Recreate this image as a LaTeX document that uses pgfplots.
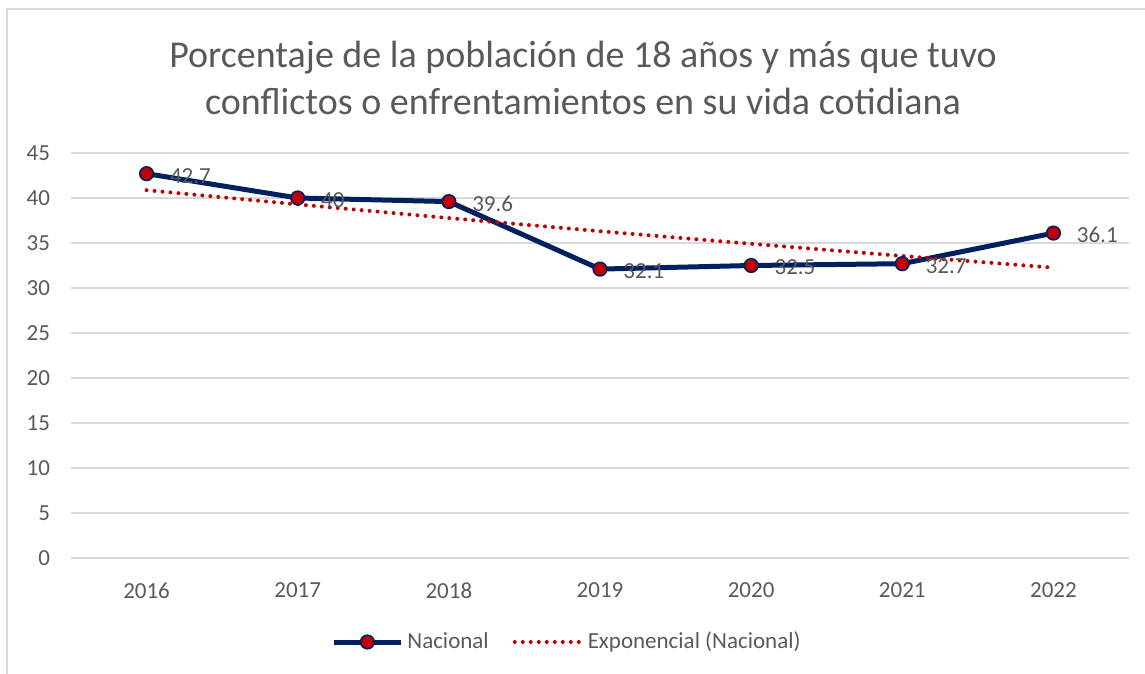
\documentclass[border=0pt]{standalone}
\usepackage{fontspec}
\setmainfont{Carlito}
\usepackage{pgfplots}
\pgfplotsset{compat=1.18}
\definecolor{navy}{HTML}{002060}
\definecolor{dred}{HTML}{C00000}
\definecolor{txt}{HTML}{595959}
\definecolor{grd}{HTML}{D9D9D9}

\begin{document}
\begin{tikzpicture}
\path[use as bounding box] (0,0) rectangle (572.5pt,337pt);
% chart border (only left and top edges are visible)
\draw[grd, line width=0.8pt] (3.5pt,0) -- (3.5pt,332.5pt) -- (572.5pt,332.5pt);
\node[txt, align=center, font=\fontsize{19}{23.5}\selectfont] at (291.5pt,298.25pt)
  {Porcentaje de la población de 18 años y más que tuvo\\conflictos o enfrentamientos en su vida cotidiana};
\begin{axis}[
    at={(35.5pt,58pt)}, anchor=south west,
    scale only axis,
    width=529pt, height=202.5pt,
    xmin=-0.5, xmax=6.5,
    ymin=0, ymax=45,
    ytick={0,5,...,45},
    xtick={0,...,6},
    xticklabels={2016,2017,2018,2019,2020,2021,2022},
    axis line style={draw=none},
    tick style={draw=none},
    ymajorgrids, grid style={grd, line width=0.8pt},
    ticklabel style={txt, font=\fontsize{11.5}{13}\selectfont},
    /pgf/number format/assume math mode=true,
    yticklabel style={xshift=-7pt},
    xticklabel style={yshift=-9pt},
    legend style={at={(rel axis cs:0.5,0)}, anchor=center, yshift=-42pt, xshift=-16pt,
        draw=none, fill=none, legend columns=2, text=txt,
        font=\fontsize{11.5}{13}\selectfont,
        /tikz/every even column/.append style={column sep=10pt}},
    clip=false,
]
\addplot[navy, line width=2.5pt, mark=*, mark size=3.4pt,
    mark options={fill=dred, draw=navy, line width=0.8pt},
    legend image code/.code={
        \draw[navy, line width=2.5pt] (0pt,0pt) -- (33.5pt,0pt);
        \draw[fill=dred, draw=navy, line width=0.8pt] (16.75pt,0pt) circle (3.4pt);},
    nodes near coords, point meta=explicit symbolic,
    every node near coord/.style={anchor=west, xshift=8pt, yshift=-1pt, text=txt,
        font=\fontsize{11.5}{13}\selectfont},
] table[meta=lab] {
x y lab
0 42.7 42.7
1 40.0 40
2 39.6 39.6
3 32.1 32.1
4 32.5 32.5
5 32.7 32.7
6 36.1 36.1
};
\addlegendentry{Nacional}
\addplot[dred, line width=2pt, line cap=round, dash pattern=on 0pt off 4pt,
    legend image code/.code={
        \draw[dred, line width=2pt, line cap=round, dash pattern=on 0pt off 4pt] (0pt,0pt) -- (33.5pt,0pt);},
] coordinates {
(0,40.87) (1,39.29) (2,37.77) (3,36.31) (4,34.91) (5,33.56) (6,32.26)
};
\addlegendentry{Exponencial (Nacional)}
\end{axis}
\end{tikzpicture}
\end{document}
